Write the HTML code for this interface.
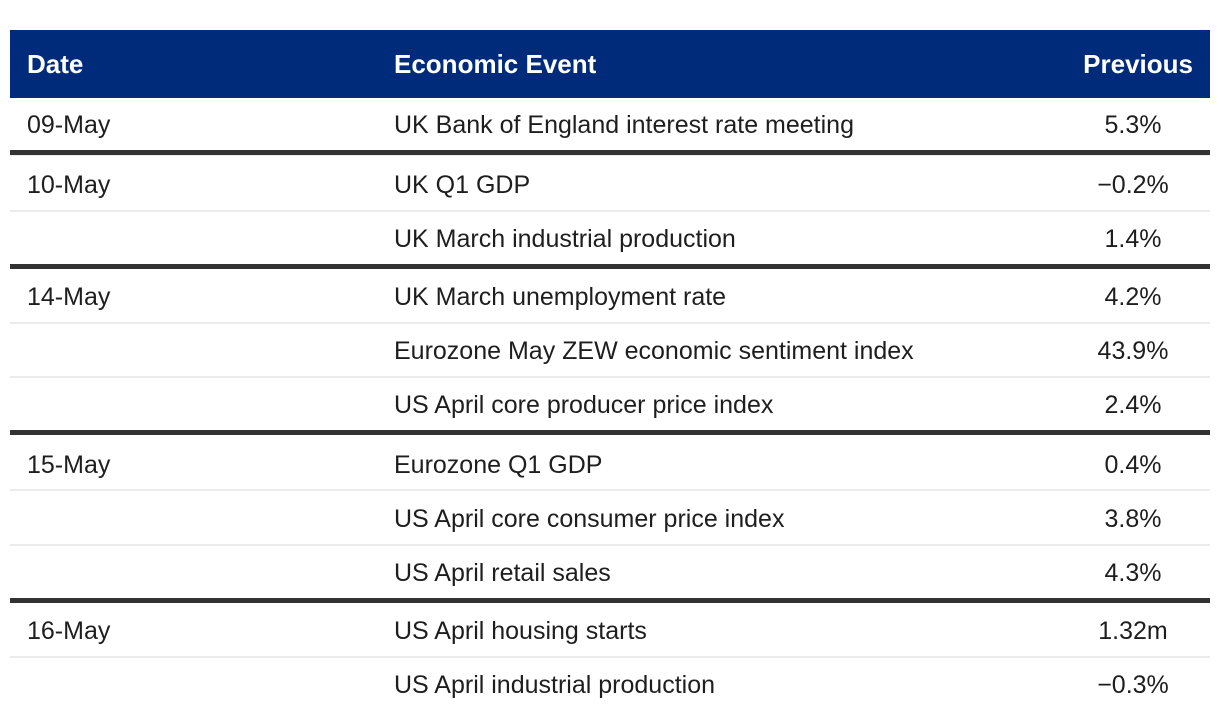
<!DOCTYPE html>
<html><head><meta charset="utf-8"><style>
body{margin:0;width:1220px;height:720px;background:#fff;position:relative;font-family:"Liberation Sans",Arial,sans-serif;overflow:hidden}
.hdr{position:absolute;left:10px;top:30px;width:1200px;height:68px;background:#002b7a}
.h{position:absolute;color:#fff;font-weight:bold;font-size:26px;line-height:68px;top:0}
.t{position:absolute;font-size:25px;color:#1e1e1e;line-height:30px}
.v{position:absolute;left:1056px;width:154px;text-align:center;font-size:25px;color:#1e1e1e;line-height:30px}
.thick{position:absolute;left:10px;width:1200px;height:5px;background:#333}
.thin{position:absolute;left:10px;width:1200px;height:2px;background:#ececec}
</style></head><body>
<div class="hdr">
<div class="h" style="left:17px">Date</div>
<div class="h" style="left:384px">Economic Event</div>
<div class="h" style="right:17px">Previous</div>
</div>
<div class="thick" style="top:150px"></div>
<div class="thin" style="top:155px;height:1px"></div>
<div class="thin" style="top:210px"></div>
<div class="thick" style="top:264px"></div>
<div class="thin" style="top:322px"></div>
<div class="thin" style="top:376px"></div>
<div class="thick" style="top:430px"></div>
<div class="thin" style="top:489px"></div>
<div class="thin" style="top:544px"></div>
<div class="thick" style="top:598px"></div>
<div class="thin" style="top:656px"></div>

<div class="t" style="left:27px;top:110px">09-May</div>
<div class="t" style="left:394px;top:110px">UK Bank of England interest rate meeting</div>
<div class="v" style="top:110px">5.3%</div>

<div class="t" style="left:27px;top:170px">10-May</div>
<div class="t" style="left:394px;top:170px">UK Q1 GDP</div>
<div class="v" style="top:170px">−0.2%</div>
<div class="t" style="left:394px;top:224px">UK March industrial production</div>
<div class="v" style="top:224px">1.4%</div>

<div class="t" style="left:27px;top:282px">14-May</div>
<div class="t" style="left:394px;top:282px">UK March unemployment rate</div>
<div class="v" style="top:282px">4.2%</div>
<div class="t" style="left:394px;top:336px">Eurozone May ZEW economic sentiment index</div>
<div class="v" style="top:336px">43.9%</div>
<div class="t" style="left:394px;top:390px">US April core producer price index</div>
<div class="v" style="top:390px">2.4%</div>

<div class="t" style="left:27px;top:450px">15-May</div>
<div class="t" style="left:394px;top:450px">Eurozone Q1 GDP</div>
<div class="v" style="top:450px">0.4%</div>
<div class="t" style="left:394px;top:504px">US April core consumer price index</div>
<div class="v" style="top:504px">3.8%</div>
<div class="t" style="left:394px;top:558px">US April retail sales</div>
<div class="v" style="top:558px">4.3%</div>

<div class="t" style="left:27px;top:616px">16-May</div>
<div class="t" style="left:394px;top:616px">US April housing starts</div>
<div class="v" style="top:616px">1.32m</div>
<div class="t" style="left:394px;top:670px">US April industrial production</div>
<div class="v" style="top:670px">−0.3%</div>
</body></html>
